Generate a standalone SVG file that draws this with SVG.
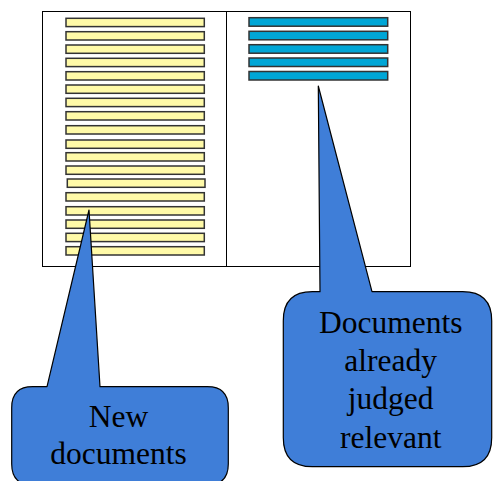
<svg xmlns="http://www.w3.org/2000/svg" width="494" height="481" viewBox="0 0 494 481">
<style>
.frame{fill:#fff;stroke:#000;stroke-width:1}
.y{fill:#fffaa8;stroke:#333;stroke-width:1.5}
.b{fill:#00a6d6;stroke:#333;stroke-width:1.5}
.call{fill:#3f7ed8;stroke:#000;stroke-width:1.2;stroke-linejoin:round}
.t{font-family:"Liberation Serif","Times New Roman",serif;font-size:31.5px;fill:#000;text-anchor:middle}
</style>
<g id="frame">
<rect class="frame" x="42.5" y="11.5" width="368" height="255"/>
<line x1="226.5" y1="11.5" x2="226.5" y2="266.5" stroke="#000" stroke-width="1"/>
</g>
<g id="new-list">
<rect class="y" x="66" y="18.3" width="138.3" height="8.3"/>
<rect class="y" x="66" y="31.7" width="138.3" height="8.3"/>
<rect class="y" x="66" y="45" width="138.3" height="8.3"/>
<rect class="y" x="66" y="58.3" width="138.3" height="8.3"/>
<rect class="y" x="66" y="71.7" width="138.3" height="8.3"/>
<rect class="y" x="66" y="85" width="138.3" height="8.3"/>
<rect class="y" x="66" y="98.3" width="138.3" height="8.3"/>
<rect class="y" x="66" y="111.7" width="138.3" height="8.3"/>
<rect class="y" x="66" y="125.7" width="138.3" height="8.3"/>
<rect class="y" x="66" y="140" width="138.3" height="8.3"/>
<rect class="y" x="66" y="152.7" width="138.3" height="8.3"/>
<rect class="y" x="66" y="166" width="138.3" height="8.3"/>
<rect class="y" x="67.3" y="179" width="137.7" height="8.3"/>
<rect class="y" x="66" y="192.7" width="138.3" height="8.3"/>
<rect class="y" x="66" y="206.7" width="138.3" height="8.3"/>
<rect class="y" x="66" y="220" width="138.3" height="8.3"/>
<rect class="y" x="66" y="233.3" width="138.3" height="8.3"/>
<rect class="y" x="66" y="246.7" width="138.3" height="8.3"/>
</g>
<g id="relevant-list">
<rect class="b" x="249" y="17.7" width="138.7" height="8.5"/>
<rect class="b" x="249" y="31.3" width="138.7" height="8.5"/>
<rect class="b" x="249" y="44.7" width="138.7" height="8.5"/>
<rect class="b" x="249" y="58" width="138.7" height="8.5"/>
<rect class="b" x="249" y="71.5" width="138.7" height="8.5"/>
</g>
<g id="callout-new">
<path class="call" d="M32.7,386.7 L47,386.7 L89,210 L100,386.7 L207.3,386.7 Q228.3,386.7 228.3,407.7 L228.3,464 Q228.3,485 207.3,485 L32.7,485 Q11.7,485 11.7,464 L11.7,407.7 Q11.7,386.7 32.7,386.7 Z"/>
<text class="t" x="118.5" y="426.5">New</text>
<text class="t" x="118.5" y="464.3">documents</text>
</g>
<g id="callout-relevant">
<path class="call" d="M312.3,291.7 L320,291.7 L318.3,86 L372,291.7 L462.7,291.7 Q491.7,291.7 491.7,320.7 L491.7,437.7 Q491.7,466.7 462.7,466.7 L312.3,466.7 Q283.3,466.7 283.3,437.7 L283.3,320.7 Q283.3,291.7 312.3,291.7 Z"/>
<text class="t" x="390.7" y="333.3">Documents</text>
<text class="t" x="390.7" y="371">already</text>
<text class="t" x="390.7" y="409">judged</text>
<text class="t" x="390.7" y="447.5">relevant</text>
</g>
</svg>
